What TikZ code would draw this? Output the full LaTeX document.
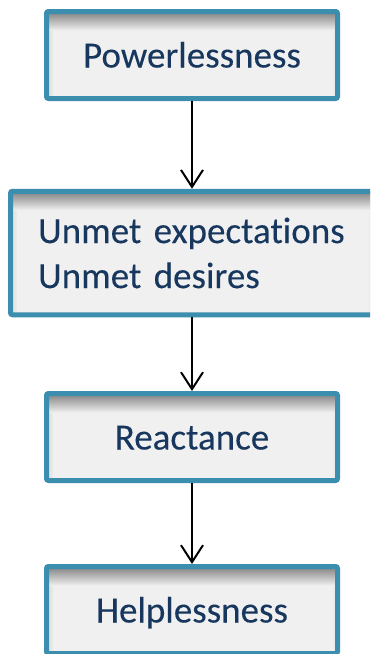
\documentclass[tikz,border=0pt]{standalone}
\usepackage{fontspec}
\setmainfont[Ligatures=NoCommon, FakeBold=0.15, WordSpace=0.75]{Carlito}
\usetikzlibrary{arrows.meta}
\definecolor{boxborder}{RGB}{60,142,174}
\definecolor{boxfill}{RGB}{240,240,240}
\definecolor{boxtext}{RGB}{23,55,94}
\tikzset{
  flowbox/.style={draw=boxborder, line width=5pt, fill=boxfill, rounded corners=2pt,
    text=boxtext, font=\fontsize{37}{45}\selectfont, inner sep=0pt,
    path picture={
      \fill[left color=black!10, right color=boxfill]
        (path picture bounding box.north west) rectangle ([xshift=6pt]path picture bounding box.south west);
      \fill[right color=black!10, left color=boxfill]
        (path picture bounding box.north east) rectangle ([xshift=-6pt]path picture bounding box.south east);
      \fill[top color=black!50, bottom color=boxfill]
        (path picture bounding box.north west) rectangle ([yshift=-19pt]path picture bounding box.north east);
    }},
  onebox/.style={flowbox, minimum width=291pt, minimum height=87pt, text height=25pt, text depth=0pt},
  flowarrow/.style={draw=black, line width=2pt, -{Straight Barb[length=17pt,width=22pt]}}
}
\begin{document}
\begin{tikzpicture}[x=1pt,y=1pt]
  \clip (0,0) rectangle (370,-654);
  \node[onebox] (b1) at (192,-55) {Powerlessness};
  \node[flowbox, minimum width=363pt, minimum height=123.5pt, text width=308pt, align=left] (b2) at (192,-253)
    {Unmet expectations\\Unmet desires};
  \node[onebox] (b3) at (192,-437) {Reactance};
  \node[onebox] (b4) at (192,-610) {Helplessness};
  \draw[flowarrow] (b1.south) -- (b2.north);
  \draw[flowarrow] (b2.south) -- (b3.north);
  \draw[flowarrow] (b3.south) -- (b4.north);
\end{tikzpicture}
\end{document}
